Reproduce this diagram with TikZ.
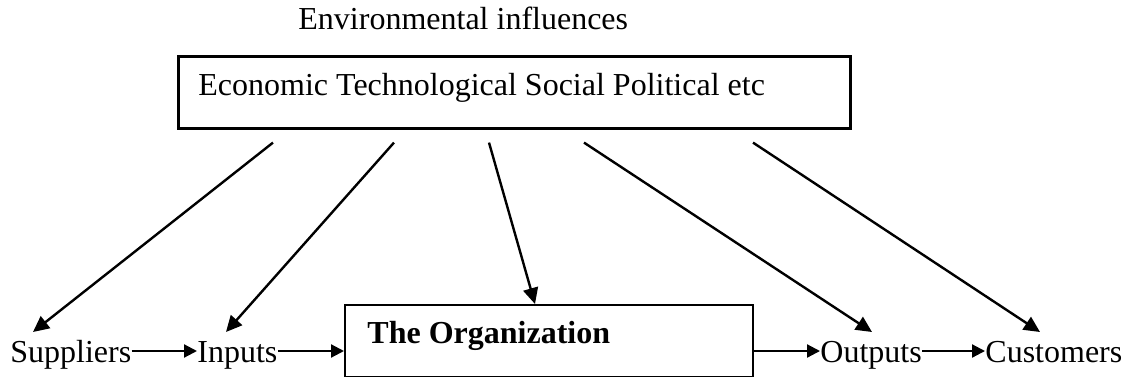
\documentclass[tikz,border=0pt]{standalone}
\usepackage{fontspec}
\setmainfont{Liberation Serif}
\usetikzlibrary{arrows.meta,calc}

\begin{document}
\begin{tikzpicture}[x=0.5pt, y=0.5pt,
  font=\fontsize{16}{18}\selectfont,
  txt/.style={anchor=base west, inner sep=0pt},
  envbox/.style={draw, line width=1.3pt, anchor=north west, inner sep=0pt,
    minimum width=336pt, minimum height=36pt},
  orgbox/.style={draw, line width=0.9pt, anchor=north west, inner sep=0pt,
    minimum width=204pt, minimum height=36pt},
  arr/.style={line width=1.2pt, -{Triangle[length=8pt, width=7.5pt]}},
  flow/.style={line width=1.1pt, -{Triangle[length=6.5pt, width=6.5pt]}}]
  \useasboundingbox (0,0) rectangle (1123,376);

  % environment
  \node[txt] (title) at (298,347) {Environmental influences};
  \node[envbox] (env) at (177,321) {};
  \node[txt] (factors) at (198,281) {Economic Technological Social Political etc};

  % the chain
  \node[orgbox] (org) at (344,72) {};
  \node[txt] (orgname) at (367,33) {\bfseries The Organization};
  \node[txt] (sup) at (10,14) {Suppliers};
  \node[txt] (inp) at (197,14) {Inputs};
  \node[txt] (out) at (820,14) {Outputs};
  \node[txt] (cus) at (985,14) {Customers};

  % influences
  \draw[arr] ($(env.south west)+(96,-13)$) -- ($(sup.base west)+(23,30)$);
  \draw[arr] ($(env.south west)+(217,-13)$) -- ($(inp.base west)+(29,30)$);
  \draw[arr] ($(env.south west)+(312,-13)$) -- ($(org.north west)+(191,0)$);
  \draw[arr] ($(env.south west)+(407,-13)$) -- ($(out.base west)+(52,30)$);
  \draw[arr] ($(env.south west)+(576,-13)$) -- ($(cus.base west)+(55,30)$);

  % flow
  \coordinate (row) at (0,25);
  \draw[flow] (sup.east |- row) -- (inp.west |- row);
  \draw[flow] (inp.east |- row) -- (org.west |- row);
  \draw[flow] (org.east |- row) -- (out.west |- row);
  \draw[flow] (out.east |- row) -- (cus.west |- row);
\end{tikzpicture}
\end{document}
